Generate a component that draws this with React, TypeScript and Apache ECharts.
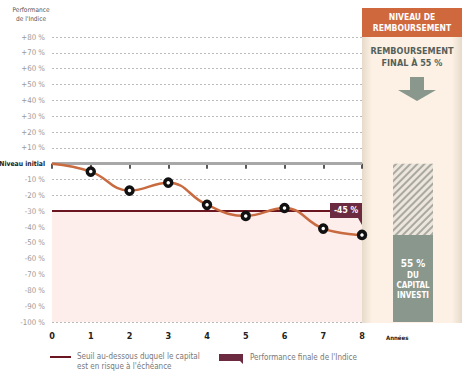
import React, { useEffect, useRef } from "react";
import * as echarts from "echarts";

const years = [0, 1, 2, 3, 4, 5, 6, 7, 8];
const performance = [0, -5, -17, -12, -26, -33, -28, -41, -45];
const yTickValues = [80, 70, 60, 50, 40, 30, 20, 10, 0, -10, -20, -30, -40, -50, -60, -70, -80, -90, -100];
const yTickLabels = ["+80 %", "+70 %", "+60 %", "+50 %", "+40 %", "+30 %", "+20 %", "+10 %", "Niveau initial", "-10 %", "-20 %", "-30 %", "-40 %", "-50 %", "-60 %", "-70 %", "-80 %", "-90 %", "-100 %"];
const threshold = -30;
const finalPerf = -45;
const repayment = 55;

const FONT = "'DejaVu Sans Condensed', 'Liberation Sans Narrow', sans-serif";

export default function App() {
  const ref = useRef<HTMLDivElement>(null);
  useEffect(() => {
    const chart = echarts.init(ref.current!, null, { renderer: "svg" });
    const option: any = {
      animation: false,
      textStyle: { fontFamily: FONT },
      grid: [
        { left: 52, right: 111, top: 37, bottom: 54, containLabel: false, outerBoundsMode: "none" },
        { left: 393, width: 40, top: 37, bottom: 54, containLabel: false, outerBoundsMode: "none" },
      ],
      xAxis: [
        {
          type: "value", min: 0, max: 8, interval: 1, gridIndex: 0,
          axisLine: { show: true, lineStyle: { color: "#aaa", type: [2, 2], width: 1 } },
          axisTick: { show: true, length: 5, lineStyle: { color: "#222", width: 1.5 } },
          axisLabel: { color: "#222", fontWeight: "bold", fontSize: 9, margin: 9, fontFamily: FONT },
          splitLine: { show: false },
        },
        { type: "category", gridIndex: 1, data: ["r"], show: false },
      ],
      yAxis: [
        {
          type: "value", min: -100, max: 80, interval: 10, gridIndex: 0,
          axisLine: { show: false }, axisTick: { show: false },
          axisLabel: {
            margin: 7, color: "#9a9a9a", fontSize: 7.8, fontFamily: FONT,
            formatter: (v: number) => {
              const i = yTickValues.indexOf(v);
              if (i < 0 || v === 0) return "";
              return yTickLabels[i];
            },
          },
          splitLine: { show: true, lineStyle: { color: "#bbb", type: [2, 2], width: 1 } },
        },
        { type: "value", min: -100, max: 80, gridIndex: 1, show: false, splitLine: { show: false } },
      ],
      series: [
        {
          type: "line",
          xAxisIndex: 0, yAxisIndex: 0,
          data: years.map((x, i) => ({ value: [x, performance[i]], symbol: i === 0 ? "none" : "circle" })),
          smooth: 0.45,
          symbolSize: 7,
          lineStyle: { color: "#c86b40", width: 2.5 },
          itemStyle: { color: "#fff", borderColor: "#111", borderWidth: 3.5 },
          z: 5,
          markArea: {
            silent: true,
            itemStyle: { color: "#fdeeec" },
            data: [[{ yAxis: threshold }, { yAxis: -100 }]],
          },
          markLine: {
            silent: true, symbol: "none", label: { show: false },
            data: [
              { yAxis: 0, lineStyle: { color: "#a8a8a8", width: 3, type: "solid" } },
              { yAxis: threshold, lineStyle: { color: "#6b1520", width: 2, type: "solid" } },
            ],
          },
        },
        {
          type: "bar", xAxisIndex: 1, yAxisIndex: 1, stack: "r", barWidth: "100%",
          data: [finalPerf],
          itemStyle: {
            color: "#ece6dc",
            decal: { symbol: "rect", color: "#a9a9a2", dashArrayX: [1, 0], dashArrayY: [1.5, 3], rotation: -Math.PI / 4, symbolSize: 1 },
          },
          silent: true,
        },
        {
          type: "bar", xAxisIndex: 1, yAxisIndex: 1, stack: "r", barWidth: "100%",
          data: [-repayment],
          itemStyle: { color: "#8a978d" },
          silent: true,
          label: {
            show: true, position: "inside",
            formatter: "{a|" + repayment + " %}\n{b|DU}\n{b|CAPITAL}\n{b|INVESTI}",
            rich: {
              a: { color: "#fff", fontWeight: "bold", fontSize: 10, lineHeight: 14, fontFamily: FONT },
              b: { color: "#fff", fontWeight: "bold", fontSize: 8, lineHeight: 10, fontFamily: FONT },
            },
          },
        },
      ],
    };
    chart.setOption(option);

    const [px, py] = chart.convertToPixel({ gridIndex: 0 }, [years[years.length - 1], finalPerf]) as number[];
    const zeroY = (chart.convertToPixel({ gridIndex: 0 }, [0, 0]) as number[])[1];
    const panelTop = 8;
    const panelBottom = (chart.convertToPixel({ gridIndex: 0 }, [0, -100]) as number[])[1] + 1;

    chart.setOption({
      graphic: [
        {
          type: "rect", z: -10, silent: true,
          shape: { x: 362, y: panelTop, width: 100, height: panelBottom - panelTop },
          style: {
            fill: new echarts.graphic.LinearGradient(0, 0, 1, 0, [
              { offset: 0, color: "#e6dacb" },
              { offset: 0.1, color: "#fcf1e4" },
              { offset: 0.9, color: "#fcf1e4" },
              { offset: 1, color: "#e6dacb" },
            ]),
          },
        },
        { type: "text", x: 45, y: zeroY, style: { text: yTickLabels[yTickValues.indexOf(0)], fill: "#222", fontSize: 6.8, fontWeight: "bold", fontFamily: FONT, align: "right", verticalAlign: "middle" } },
        { type: "rect", z: -5, silent: true, shape: { x: 362, y: panelTop, width: 100, height: 29 }, style: { fill: "#d0683e" } },
        { type: "text", x: 412, y: 17, style: { text: "NIVEAU DE", fill: "#fff", fontSize: 8.5, fontWeight: "bold", fontFamily: FONT, align: "center", verticalAlign: "middle" } },
        { type: "text", x: 412, y: 28, style: { text: "REMBOURSEMENT", fill: "#fff", fontSize: 8.5, fontWeight: "bold", fontFamily: FONT, align: "center", verticalAlign: "middle" } },
        { type: "text", x: 412, y: 51, style: { text: "REMBOURSEMENT", fill: "#55605a", fontSize: 9, fontWeight: "bold", fontFamily: FONT, align: "center", verticalAlign: "middle" } },
        { type: "text", x: 412, y: 63, style: { text: "FINAL À " + repayment + " %", fill: "#55605a", fontSize: 9, fontWeight: "bold", fontFamily: FONT, align: "center", verticalAlign: "middle" } },
        { type: "rect", shape: { x: 410, y: 77, width: 14, height: 14 }, style: { fill: "#8a978d" } },
        { type: "polygon", shape: { points: [[398, 90], [436, 90], [417, 101]] }, style: { fill: "#8a978d" } },
        {
          type: "polygon", z: 20,
          shape: { points: [[px - 32, py - 32], [px, py - 32], [px, py - 10], [px - 4, py - 17], [px - 32, py - 17]] },
          style: { fill: "#6b2a40" },
        },
        { type: "text", z: 21, x: px - 16, y: py - 24.5, style: { text: finalPerf + " %", fill: "#fff", fontSize: 8.5, fontWeight: "bold", fontFamily: FONT, align: "center", verticalAlign: "middle" } },
        { type: "text", x: 386, y: 337, style: { text: "Années", fill: "#222", fontSize: 6, fontWeight: "bold", fontFamily: FONT, verticalAlign: "middle" } },
        { type: "text", x: 31, y: 10, style: { text: "Performance", fill: "#555", fontSize: 6.5, fontFamily: FONT, align: "center", verticalAlign: "middle" } },
        { type: "text", x: 31, y: 19, style: { text: "de l'Indice", fill: "#555", fontSize: 6.5, fontFamily: FONT, align: "center", verticalAlign: "middle" } },
        { type: "line", shape: { x1: 50, y1: 357, x2: 71, y2: 357 }, style: { stroke: "#6b1520", lineWidth: 2 } },
        { type: "text", x: 77, y: 356, style: { text: "Seuil au-dessous duquel le capital", fill: "#777", fontSize: 8, fontFamily: FONT, verticalAlign: "middle" } },
        { type: "text", x: 77, y: 366, style: { text: "est en risque à l'échéance", fill: "#777", fontSize: 8, fontFamily: FONT, verticalAlign: "middle" } },
        { type: "polygon", shape: { points: [[219, 354], [243, 354], [243, 364], [240, 361], [219, 361]] }, style: { fill: "#6b2a40" } },
        { type: "text", x: 250, y: 357, style: { text: "Performance finale de l'Indice", fill: "#777", fontSize: 8, fontFamily: FONT, verticalAlign: "middle" } },
      ],
    });
    return () => chart.dispose();
  }, []);
  return <div ref={ref} style={{ width: 473, height: 376, position: "absolute", left: 0, top: 0, background: "#fff" }} />;
}
